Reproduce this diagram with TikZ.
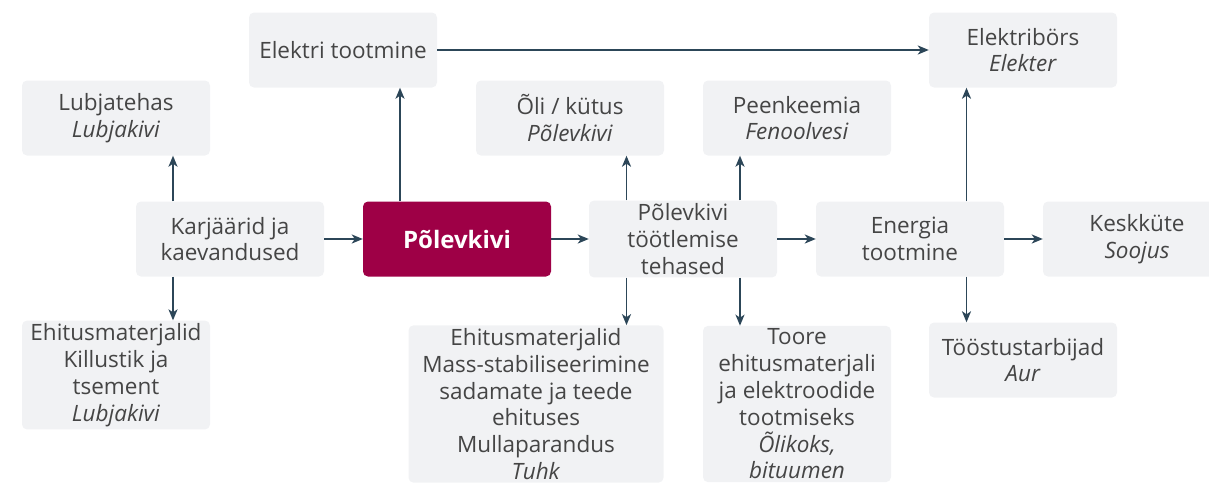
\documentclass[tikz,border=0pt]{standalone}
\usepackage{fontspec}
\setmainfont{Open Sans}
\usetikzlibrary{arrows.meta,calc}
\definecolor{boxgrey}{HTML}{F1F2F4}
\definecolor{shalered}{HTML}{9E0046}
\definecolor{flowline}{HTML}{2C4658}
\definecolor{labelgrey}{HTML}{454545}
\tikzset{
  stagebox/.style={rectangle,rounded corners=5pt,fill=boxgrey,text=labelgrey,
    minimum width=188pt,minimum height=75pt,align=center,inner sep=3pt,
    font=\fontsize{22.5}{26.8}\selectfont},
  corebox/.style={stagebox,fill=shalered,text=white,font=\fontsize{24}{27}\selectfont\bfseries},
  flow/.style={draw=flowline,line width=1.8pt,-{Stealth[length=11pt,width=9pt,inset=3pt]}}
}
\begin{document}
\begin{tikzpicture}[x=1pt,y=-1pt]
		\useasboundingbox (0,0) rectangle (1209,483);

		% Top row
		\node[stagebox] (elektri) at (343,50) {Elektri tootmine};
		\node[stagebox] (bors) at (1023,50) {Elektribörs\\\textit{Elekter}};

		% Second row: products above the main line
		\node[stagebox] (lubja) at (116,118) {Lubjatehas\\\textit{Lubjakivi}};
		\node[stagebox] (oli) at (570,118) {Õli / kütus\\\textit{Põlevkivi}};
		\node[stagebox] (peen) at (797,118) {Peenkeemia\\\textit{Fenoolvesi}};

		% Main line
		\node[stagebox] (karj) at (230,239) {Karjäärid ja\\kaevandused};
		\node[corebox] (polev) at (457,239) {Põlevkivi};
		\node[stagebox] (tehas) at (683,239) {Põlevkivi\\töötlemise\\tehased};
		\node[stagebox] (energia) at (910,239) {Energia\\tootmine};
		\node[stagebox] (kesk) at (1137,239) {Keskküte\\\textit{Soojus}};

		% Bottom row
		\node[stagebox] (ehit) at (116,375) {Ehitusmaterjalid\\Killustik ja\\tsement\\\textit{Lubjakivi}};
		\node[stagebox,minimum width=255pt] (tuhk) at (536,404)
			{Ehitusmaterjalid\\Mass-stabiliseerimine\\sadamate ja teede\\ehituses\\Mullaparandus\\\textit{Tuhk}};
		\node[stagebox] (toore) at (797,404)
			{Toore\\ehitusmaterjali\\ja elektroodide\\tootmiseks\\\textit{Õlikoks,}\\\textit{bituumen}};
		\node[stagebox] (toostus) at (1023,360) {Tööstustarbijad\\\textit{Aur}};

		% Vertical links sit in the middle of the two boxes' overlap
		\coordinate (k1) at ($(karj.west)!0.5!(lubja.east)$);
		\coordinate (p1) at ($(polev.west)!0.5!(elektri.east)$);
		\coordinate (t1) at ($(tehas.west)!0.5!(oli.east)$);
		\coordinate (t2) at ($(tehas.east)!0.5!(peen.west)$);
		\coordinate (e1) at ($(energia.east)!0.5!(bors.west)$);

		% Horizontal links
		\draw[flow] (karj) -- (polev);
		\draw[flow] (polev) -- (tehas);
		\draw[flow] (tehas) -- (energia);
		\draw[flow] (energia) -- (kesk);
		\draw[flow] (elektri) -- (bors);

		% Vertical links
		\draw[flow] (karj.north -| k1) -- (lubja.south -| k1);
		\draw[flow] (karj.south -| k1) -- (ehit.north -| k1);
		\draw[flow] (polev.north -| p1) -- (elektri.south -| p1);
		\draw[flow] (tehas.north -| t1) -- (oli.south -| t1);
		\draw[flow] (tehas.north -| t2) -- (peen.south -| t2);
		\draw[flow] (tehas.south -| t1) -- (tuhk.north -| t1);
		\draw[flow] (tehas.south -| t2) -- (toore.north -| t2);
		\draw[flow] (energia.north -| e1) -- (bors.south -| e1);
		\draw[flow] (energia.south -| e1) -- (toostus.north -| e1);
	\end{tikzpicture}
\end{document}
